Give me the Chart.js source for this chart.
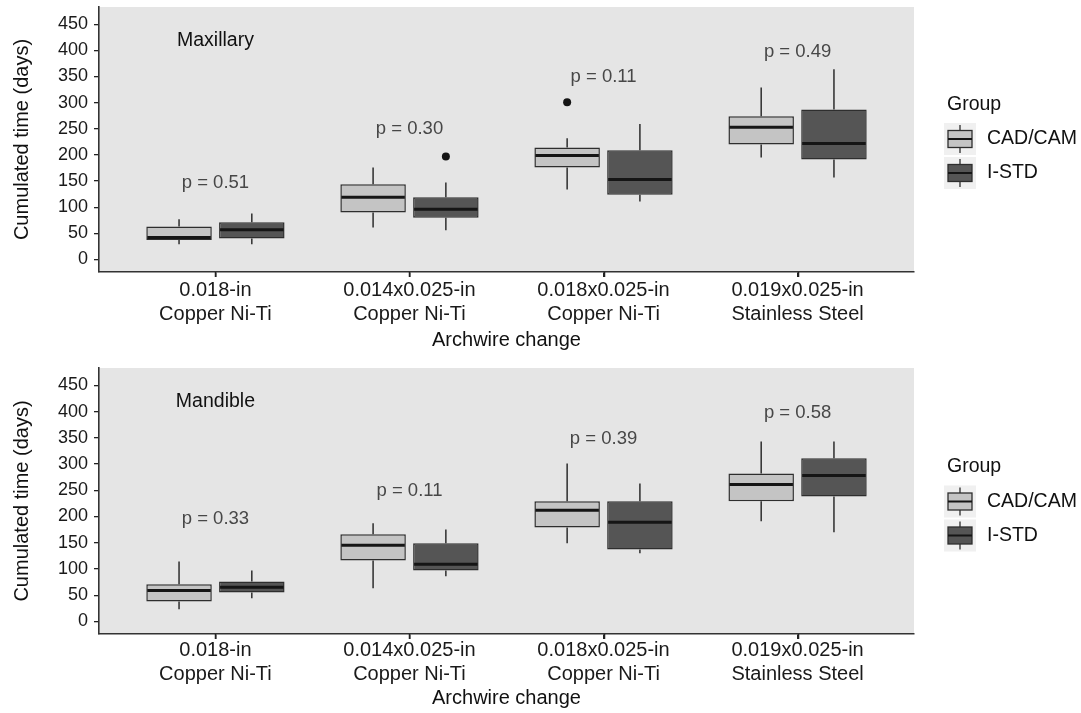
<!DOCTYPE html>
<html><head><meta charset="utf-8">
<script src="https://cdn.jsdelivr.net/npm/chart.js@4/dist/chart.umd.min.js"></script>
<style>
html,body{margin:0;padding:0;background:#fff;}
#wrap{position:relative;width:1081px;height:713px;}
.pane{position:absolute;left:0;width:1081px;}
</style></head><body>
<div id="wrap">
<div class="pane" style="top:0;height:361px"><canvas id="c1"></canvas></div>
<div class="pane" style="top:361px;height:352px"><canvas id="c2"></canvas></div>
</div>
<script>
// ---------- data ----------
const categories = [["0.018-in","Copper Ni-Ti"],["0.014x0.025-in","Copper Ni-Ti"],["0.018x0.025-in","Copper Ni-Ti"],["0.019x0.025-in","Stainless Steel"]];
const categoryX = [1,2,3,4];
const groups = ["CAD/CAM","I-STD"];
const yTicks = [0,50,100,150,200,250,300,350,400,450];

// Maxillary
const maxCadLow  = [29, 61, 134, 195];
const maxCadQ1   = [37, 90, 176, 220];
const maxCadMed  = [42, 119, 199, 253];
const maxCadQ3   = [63, 144, 214, 274];
const maxCadHigh = [77, 176, 232, 329];
const maxCadOut  = [[], [], [301], []];
const maxStdLow  = [29, 56, 111, 157];
const maxStdQ1   = [40, 80, 124, 191];
const maxStdMed  = [57, 96, 153, 222];
const maxStdQ3   = [71, 119, 209, 287];
const maxStdHigh = [88, 147, 259, 364];
const maxStdOut  = [[], [197], [], []];
const maxPText   = ["p = 0.51","p = 0.30","p = 0.11","p = 0.49"];
const maxPAt     = [146, 249, 349, 398];

// Mandible
const manCadLow  = [23, 63, 149, 191];
const manCadQ1   = [38, 116, 179, 229];
const manCadMed  = [59, 145, 212, 261];
const manCadQ3   = [71, 166, 229, 282];
const manCadHigh = [114, 187, 301, 343];
const manCadOut  = [[], [], [], []];
const manStdLow  = [44, 86, 130, 170];
const manStdQ1   = [55, 97, 137, 238];
const manStdMed  = [65, 109, 189, 278];
const manStdQ3   = [76, 149, 229, 311];
const manStdHigh = [97, 175, 263, 343];
const manStdOut  = [[], [], [], []];
const manPText   = ["p = 0.33","p = 0.11","p = 0.39","p = 0.58"];
const manPAt     = [196, 248, 347, 397];

// ---------- styling ----------
const FONT = "'Liberation Sans', Arial, Helvetica, sans-serif";
Chart.defaults.font.family = FONT;
const fills = ["#c4c4c4", "#555555"];
const edge = "#2e2e2e";

const boxPlugin = {
  id: 'boxExtras',
  beforeDraw(chart) {
    const {ctx, chartArea: a} = chart;
    ctx.save();
    ctx.fillStyle = '#e5e5e5';
    ctx.fillRect(a.left, a.top, a.right - a.left, a.bottom - a.top);
    ctx.restore();
  },
  afterDatasetsDraw(chart, args, opts) {
    const ctx = chart.ctx, ys = chart.scales.y, xs = chart.scales.x;
    ctx.save();
    chart.data.datasets.forEach((ds, di) => {
      const st = opts.stats[di];
      chart.getDatasetMeta(di).data.forEach((bar, i) => {
        const x = bar.x, w = bar.width;
        const pq1 = ys.getPixelForValue(ds.data[i].y[0]);
        const pq3 = ys.getPixelForValue(ds.data[i].y[1]);
        const plo = ys.getPixelForValue(st.lo[i]);
        const phi = ys.getPixelForValue(st.hi[i]);
        const pmed = ys.getPixelForValue(st.med[i]);
        ctx.strokeStyle = edge; ctx.lineWidth = 1.5;
        ctx.beginPath();
        ctx.moveTo(x, phi); ctx.lineTo(x, pq3);
        ctx.moveTo(x, pq1); ctx.lineTo(x, plo);
        ctx.stroke();
        ctx.strokeStyle = '#151515'; ctx.lineWidth = 3;
        ctx.beginPath();
        ctx.moveTo(x - w / 2 + 1, pmed); ctx.lineTo(x + w / 2 - 1, pmed);
        ctx.stroke();
        ctx.fillStyle = '#151515';
        st.out[i].forEach(v => {
          ctx.beginPath();
          ctx.arc(x, ys.getPixelForValue(v), 4, 0, Math.PI * 2);
          ctx.fill();
        });
      });
    });
    // p-values
    ctx.fillStyle = '#474747';
    ctx.font = '18.5px ' + FONT;
    ctx.textAlign = 'center'; ctx.textBaseline = 'middle';
    opts.pText.forEach((t, i) => {
      ctx.fillText(t, xs.getPixelForValue(categoryX[i]), ys.getPixelForValue(opts.pAt[i]));
    });
    // panel label
    ctx.fillStyle = '#111';
    ctx.font = '19.5px ' + FONT;
    ctx.fillText(opts.panel, xs.getPixelForValue(categoryX[0]), ys.getPixelForValue(418));
    ctx.restore();
  },
  afterDraw(chart, args, opts) {
    const ctx = chart.ctx, a = chart.chartArea, xs = chart.scales.x;
    ctx.save();
    // x-axis tick marks
    ctx.strokeStyle = '#222'; ctx.lineWidth = 1.5;
    ctx.beginPath();
    categoryX.forEach(v => {
      const px = Math.round(xs.getPixelForValue(v)) + 0.5;
      ctx.moveTo(px, a.bottom); ctx.lineTo(px, a.bottom + 5);
    });
    ctx.stroke();
    // legend
    const mid = (a.top + a.bottom) / 2 + opts.legendShift;
    ctx.textAlign = 'left'; ctx.textBaseline = 'middle';
    ctx.fillStyle = '#111';
    ctx.font = '19.5px ' + FONT;
    ctx.fillText('Group', 947, mid - 37);
    groups.forEach((g, i) => {
      const cy = mid - 2.5 + i * 34;
      ctx.fillStyle = '#f0f0f0';
      ctx.fillRect(944, cy - 16, 32, 32);
      ctx.strokeStyle = edge; ctx.lineWidth = 1.3;
      ctx.beginPath();
      ctx.moveTo(960, cy - 14); ctx.lineTo(960, cy - 8.5);
      ctx.moveTo(960, cy + 8.5); ctx.lineTo(960, cy + 14);
      ctx.stroke();
      ctx.fillStyle = fills[i];
      ctx.fillRect(948, cy - 8.5, 24, 17);
      ctx.strokeRect(948, cy - 8.5, 24, 17);
      ctx.lineWidth = 2; ctx.strokeStyle = '#151515';
      ctx.beginPath(); ctx.moveTo(948, cy); ctx.lineTo(972, cy); ctx.stroke();
      ctx.fillStyle = '#111';
      ctx.fillText(g, 987, cy);
    });
    ctx.restore();
  }
};

function makeChart(id, h, bottomPx, panel, cad, std, pText, pAt, titlePad, tickPad, legendShift) {
  const mk = (q1, q3) => categoryX.map((x, i) => ({x: x, y: [q1[i], q3[i]]}));
  return new Chart(document.getElementById(id), {
    type: 'bar',
    data: {
      datasets: [
        {label: groups[0], data: mk(cad.q1, cad.q3), backgroundColor: fills[0], borderColor: edge, borderWidth: 1.5, borderSkipped: false},
        {label: groups[1], data: mk(std.q1, std.q3), backgroundColor: fills[1], borderColor: edge, borderWidth: 1.5, borderSkipped: false}
      ]
    },
    options: {
      responsive: true, maintainAspectRatio: false, animation: false,
      layout: {padding: {top: 7, right: 167, bottom: 0, left: 0}},
      datasets: {bar: {categoryPercentage: 0.75, barPercentage: 0.9}},
      scales: {
        x: {
          type: 'linear', min: 0.4, max: 4.6, offset: false,
          afterBuildTicks: s => { s.ticks = categoryX.map(v => ({value: v})); },
          afterFit: s => { s.height = h - bottomPx; s.paddingLeft = 0; s.paddingRight = 0; },
          grid: {drawOnChartArea: false, drawTicks: true, offset: false, tickLength: 5, color: '#222', lineWidth: 1.5},
          border: {display: true, color: '#333', width: 1.6},
          ticks: {callback: v => categories[v - 1], font: {size: 20}, color: '#1a1a1a', padding: tickPad - 1, maxRotation: 0, autoSkip: false},
          title: {display: true, text: 'Archwire change', font: {size: 20}, color: '#111', padding: {top: 0, bottom: titlePad}}
        },
        y: {
          min: -24, max: 483,
          afterBuildTicks: s => { s.ticks = yTicks.map(v => ({value: v})); },
          afterFit: s => { s.width = 99; s.paddingTop = 0; s.paddingBottom = 0; },
          grid: {drawOnChartArea: false, drawTicks: true, offset: false, tickLength: 5, color: '#222', lineWidth: 1.3},
          border: {display: true, color: '#333', width: 1.6},
          ticks: {font: {size: 18}, color: '#1a1a1a', padding: 6},
          title: {display: true, text: 'Cumulated time (days)', font: {size: 20}, color: '#111', padding: {top: 10, bottom: 0}}
        }
      },
      plugins: {
        legend: {display: false}, tooltip: {enabled: false},
        boxExtras: {panel: panel, stats: [cad, std], pText: pText, pAt: pAt, legendShift: legendShift}
      }
    },
    plugins: [boxPlugin]
  });
}

makeChart('c1', 361, 272, 'Maxillary',
  {lo: maxCadLow, q1: maxCadQ1, med: maxCadMed, q3: maxCadQ3, hi: maxCadHigh, out: maxCadOut},
  {lo: maxStdLow, q1: maxStdQ1, med: maxStdMed, q3: maxStdQ3, hi: maxStdHigh, out: maxStdOut},
  maxPText, maxPAt, 9, 2, 2);
makeChart('c2', 352, 273, 'Mandible',
  {lo: manCadLow, q1: manCadQ1, med: manCadMed, q3: manCadQ3, hi: manCadHigh, out: manCadOut},
  {lo: manStdLow, q1: manStdQ1, med: manStdMed, q3: manStdQ3, hi: manStdHigh, out: manStdOut},
  manPText, manPAt, 3, 0, 3);
</script>
</body></html>
